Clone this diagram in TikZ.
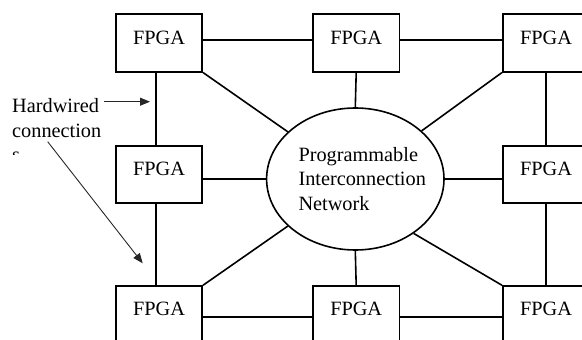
\documentclass[tikz,border=0pt]{standalone}
\usepackage{fontspec}
\setmainfont{Liberation Serif}
\usetikzlibrary{shapes.geometric,arrows.meta}
\begin{document}
\begin{tikzpicture}[x=1pt,y=-1pt, font=\fontsize{20.3}{24.5}\selectfont,
  fpga/.style={draw, line width=1.6pt, minimum width=86.5pt, minimum height=57.5pt, inner sep=0},
  wire/.style={line width=1.6pt},
  note/.style={line width=0.9pt, draw=black!85, -{Triangle[length=10pt,width=8pt]}},
  lbl/.style={anchor=base west, inner sep=0}]
\useasboundingbox (0,0) rectangle (582,340);
\clip (0,0) rectangle (582,340);
% boxes
\node[fpga] (tl) at (159,43) {};
\node[fpga] (tm) at (356.2,43) {};
\node[fpga] (tr) at (546,43) {};
\node[fpga] (ml) at (159,174.5) {};
\node[fpga] (mr) at (546,174.5) {};
\node[fpga] (bl) at (159,314.8) {};
\node[fpga] (bm) at (356.2,314.8) {};
\node[fpga] (br) at (546,314.8) {};
\foreach \b in {tl,tm,tr,ml,mr,bl,bm,br}{
  \node[inner sep=0] (\b t) at ([yshift=5.6pt]\b.center) {FPGA};
}
% network
\node[draw, ellipse, line width=1.6pt, minimum width=177.4pt, minimum height=142pt, inner sep=0] (net) at (355.3,179) {};
\node[lbl] (n1) at (298.3,161) {Programmable};
\node[lbl] (n2) at (298.3,185.5) {Interconnection};
\node[lbl] (n3) at (298.3,210) {Network};
% hardwired connections
\draw[wire] ([yshift=3pt]tl.east) -- ([yshift=3pt]tm.west);
\draw[wire] ([yshift=3pt]tm.east) -- ([yshift=3pt]tr.west);
\draw[wire] ([yshift=-1.9pt]bl.east) -- ([yshift=-1.9pt]bm.west);
\draw[wire] ([yshift=-1.9pt]bm.east) -- ([yshift=-1.9pt]br.west);
\draw[wire] ([xshift=-3pt]tl.south) -- ([xshift=-3pt]ml.north);
\draw[wire] ([xshift=-3pt]ml.south) -- ([xshift=-3pt]bl.north);
\draw[wire] (tr.south) -- (mr.north);
\draw[wire] (mr.south) -- (br.north);
% to network
\draw[wire] (tm.south) -- (net.north);
\draw[wire] (bm.north) -- (net.south);
\draw[wire] (ml.east |- net.west) -- (net.west);
\draw[wire] (net.east) -- (mr.west |- net.east);
\draw[wire] (tl.south east) -- (net);
\draw[wire] (tr.south west) -- (net);
\draw[wire] (bl.north east) -- (net);
\draw[wire] (br.north west) -- (net.-43);
% annotation
\node[lbl] (h1) at (12,112.5) {Hardwired};
\node[lbl] (h2) at (12,137.2) {connection};
\begin{scope}
  \clip (0,140) rectangle (60,154);
  \node[lbl] (h3) at (12,161.7) {s};
\end{scope}
\coordinate (a1) at (104.3,101.7);
\coordinate (a1e) at (150,101.7);
\coordinate (a2) at (47.7,141.7);
\coordinate (a2e) at (142.7,263.3);
\draw[note] (a1) -- (a1e);
\draw[note] (a2) -- (a2e);
\end{tikzpicture}
\end{document}
